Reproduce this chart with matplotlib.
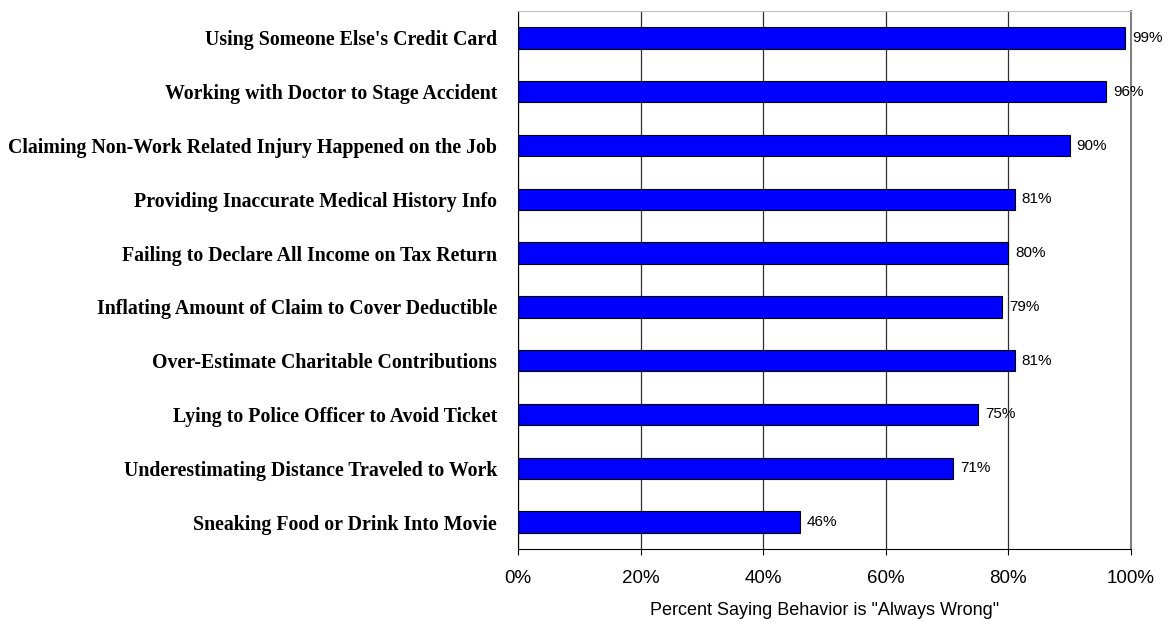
import matplotlib.pyplot as plt
import numpy as np

# behaviours, top to bottom
behaviors = [
    "Using Someone Else's Credit Card",
    "Working with Doctor to Stage Accident",
    "Claiming Non-Work Related Injury Happened on the Job",
    "Providing Inaccurate Medical History Info",
    "Failing to Declare All Income on Tax Return",
    "Inflating Amount of Claim to Cover Deductible",
    "Over-Estimate Charitable Contributions",
    "Lying to Police Officer to Avoid Ticket",
    "Underestimating Distance Traveled to Work",
    "Sneaking Food or Drink Into Movie",
]
pct_wrong = [99, 96, 90, 81, 80, 79, 81, 75, 71, 46]
xticks = [0, 20, 40, 60, 80, 100]

fig = plt.figure(figsize=(11.72, 6.22), dpi=100)
ax = fig.add_axes([518 / 1172, 73 / 622, 613 / 1172, 538 / 622])

y = np.arange(len(behaviors))
ax.barh(y, pct_wrong, height=0.4, color='#0000ff', edgecolor='black', linewidth=0.8, zorder=3)

for yi, v in zip(y, pct_wrong):
    ax.annotate(f"{v}%", (v, yi), xytext=(7, 0), textcoords='offset pixels',
                ha='left', va='center', fontsize=11, family='Liberation Sans')

ax.set_xlim(0, 100)
ax.set_ylim(len(behaviors) - 0.5, -0.5)
ax.set_xticks(xticks)
ax.set_xticklabels([f"{t}%" for t in xticks], family='Liberation Sans', fontsize=13.5)
ax.set_yticks(y)
ax.set_yticklabels(behaviors, family='Liberation Serif', fontweight='bold', fontsize=14.3)
ax.tick_params(axis='y', length=0, pad=15)
ax.tick_params(axis='x', length=4, direction='out', pad=11, color='black')

ax.grid(axis='x', color='#303030', linewidth=0.9, zorder=0)
ax.spines['left'].set_color('black')
ax.spines['bottom'].set_color('black')
ax.spines['right'].set_color('#808080')
ax.spines['right'].set_linewidth(1.5)
ax.spines['top'].set_color('#c0c0c0')

ax.set_xlabel('Percent Saying Behavior is "Always Wrong"', family='Liberation Sans',
              fontsize=13, labelpad=11)

fig.savefig('out.png', dpi=100)
